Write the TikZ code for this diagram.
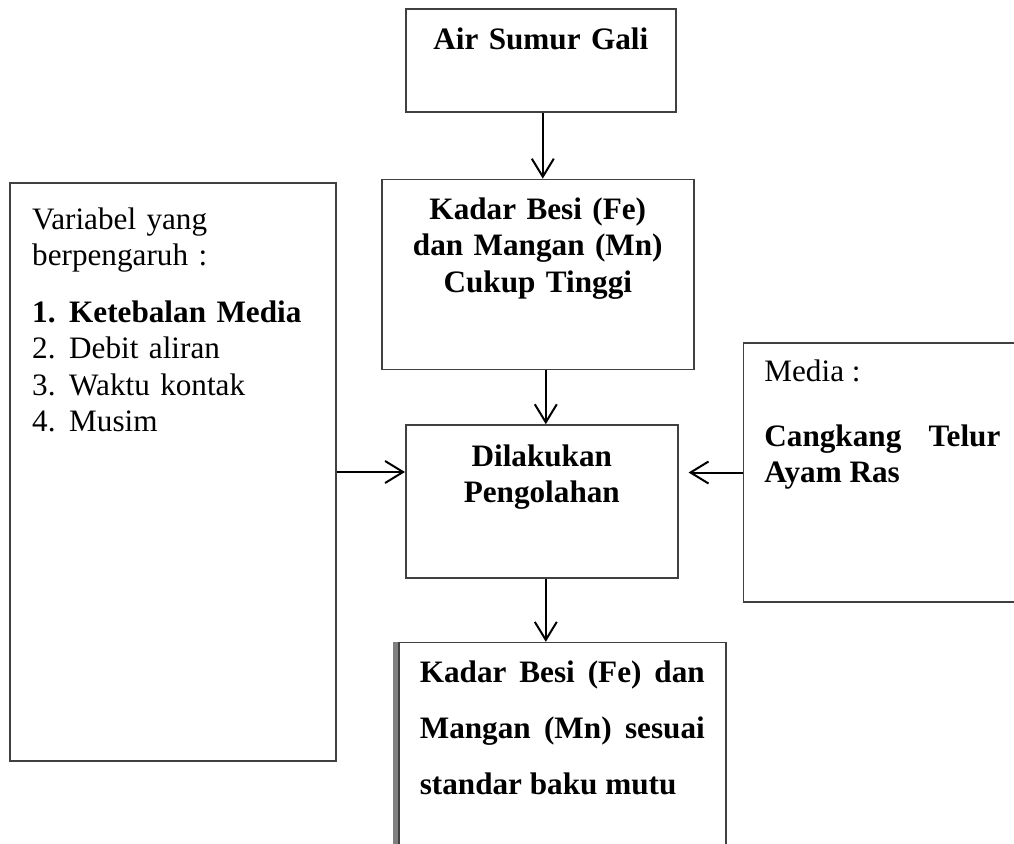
\documentclass[tikz,border=0pt]{standalone}
\usepackage{fontspec}
\setmainfont{Liberation Serif}
\usepackage{tikz}
\usetikzlibrary{positioning,arrows.meta}

\begin{document}
\begin{tikzpicture}[%
>={Straight Barb[length=9pt,width=11pt]},
box/.style={draw=black!75, line width=0.8pt, inner sep=0pt,
  font=\fontsize{15.6pt}{18.2pt}\selectfont},
main/.style={box, align=center, font=\fontsize{15.6pt}{18.2pt}\selectfont\bfseries},
arr/.style={->, line width=1pt}
]

\useasboundingbox (0,0) rectangle (507pt,-421.5pt);
\clip (0,0) rectangle (507pt,-421.5pt);

\node[main, text width=135pt, text height=20.5pt, text depth=31pt, anchor=north west] (air) at (202.5pt,-4pt) {Air Sumur Gali};
\node[main, text width=156pt, text height=20pt, text depth=75pt, below=33pt of air, xshift=-1.5pt] (kadar) {Kadar Besi (Fe)\\dan Mangan (Mn)\\Cukup Tinggi};
\node[main, text width=136pt, text height=20.5pt, text depth=56pt, below=27pt of kadar, xshift=2pt] (olah) {Dilakukan\\Pengolahan};
\node[box, text width=142.5pt, inner xsep=10.5pt, align=justify, font=\fontsize{15.6pt}{28pt}\selectfont\bfseries, text height=20pt, text depth=96.5pt, below=31.5pt of olah, xshift=10.25pt] (hasil) {Kadar Besi (Fe) dan\linebreak Mangan (Mn) sesuai\linebreak standar baku mutu};
\node[box, text width=141pt, inner xsep=11pt, align=left, text height=23pt, text depth=266pt, left=34pt of olah, yshift=14.75pt] (vars) {Variabel yang\\berpengaruh :\\[10.3pt]\textbf{\makebox[18.5pt][l]{1.}Ketebalan Media}\\\makebox[18.5pt][l]{2.}Debit aliran\\\makebox[18.5pt][l]{3.}Waktu kontak\\\makebox[18.5pt][l]{4.}Musim};
\node[box, text width=118pt, inner xsep=10.5pt, align=justify, text height=19pt, text depth=110.5pt, right=32pt of olah, yshift=14.5pt] (media) {Media :\\[14.3pt]\textbf{Cangkang Telur\linebreak Ayam Ras}};

\draw[gray, line width=2.2pt] ([xshift=-1.3pt]hasil.north west) -- ([xshift=-1.3pt]hasil.south west);

\path[arr] ([xshift=1pt]air.south) edge ([xshift=1pt]air.south |- kadar.north);
\path[arr] ([xshift=4pt]kadar.south) edge ([xshift=4pt]kadar.south |- olah.north);
\path[arr] ([xshift=2pt]olah.south) edge ([xshift=2pt]olah.south |- hasil.north);
\path[arr] (vars.east) edge (vars.east -| olah.west);
\path[arr] (media.west) edge[shorten >=5pt] (media.west -| olah.east);

\end{tikzpicture}
\end{document}
